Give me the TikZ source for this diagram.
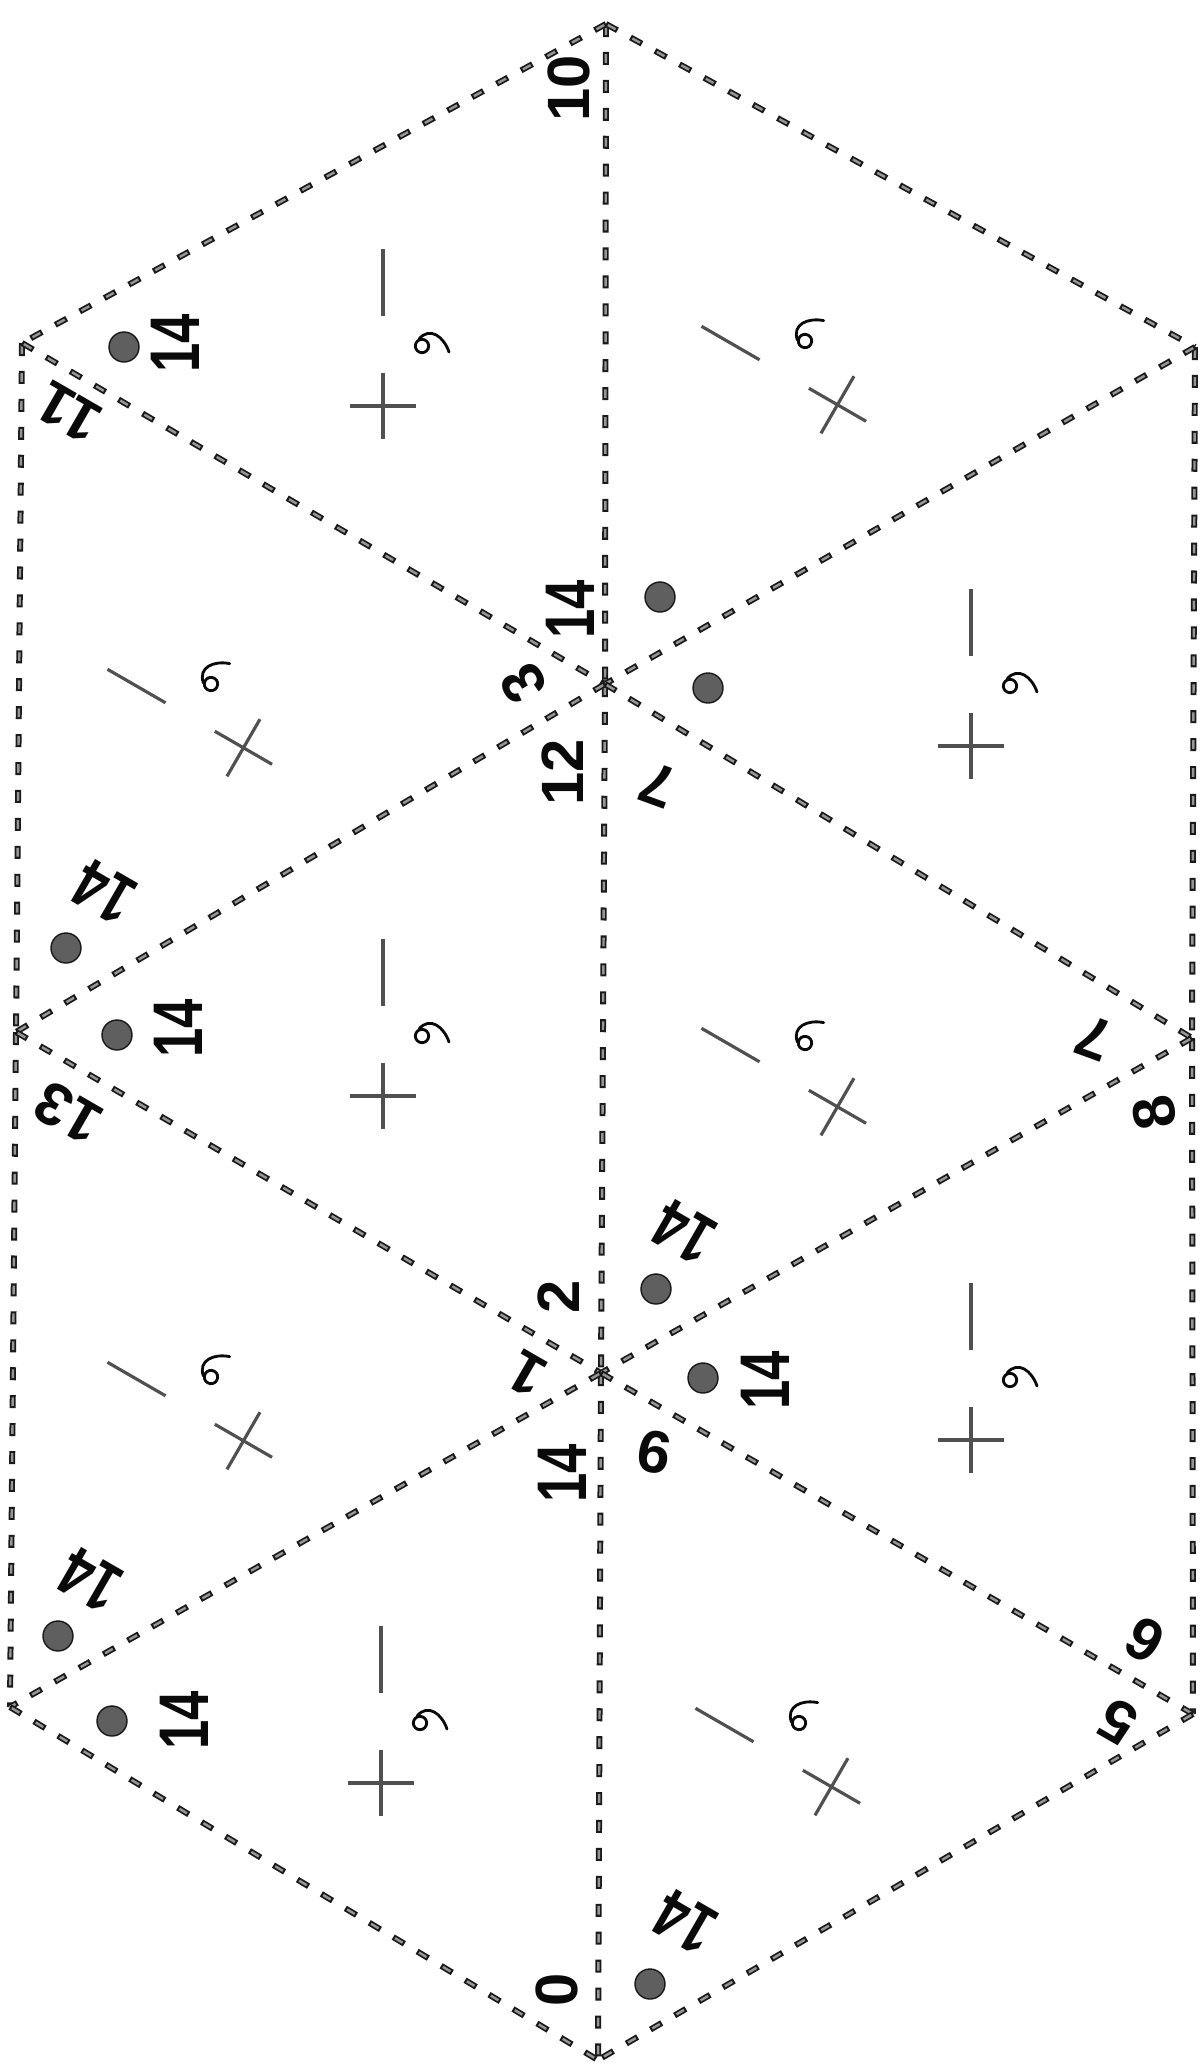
\documentclass[tikz,border=0pt]{standalone}
\usepackage{fontspec}
\newfontfamily\handfont{Liberation Sans}
\newfontfamily\handnarrow{Liberation Sans}[FakeStretch=0.75]
\definecolor{flexTplPaper}{RGB}{255,255,255}
\definecolor{flexTplFold}{RGB}{25,25,25}
\definecolor{flexTplFoldIn}{RGB}{150,150,150}
\definecolor{flexTplSign}{RGB}{80,80,80}
\definecolor{flexTplInk}{RGB}{10,10,10}
\definecolor{flexTplDot}{RGB}{95,95,95}

\begin{document}
\begin{tikzpicture}[x=.02cm,y=-.02cm,
      num/.style={font=\fontsize{34}{34}\selectfont\handfont\bfseries,
        text=flexTplInk, inner sep=0pt},
      big/.style={font=\fontsize{40}{40}\selectfont\handnarrow\bfseries,
        text=flexTplInk, inner sep=0pt},
      spot/.style={circle, fill=flexTplDot, draw=flexTplFold, line width=.8pt,
        minimum size=.6cm, inner sep=0pt},
      fold/.style={draw=flexTplFold, line width=3.4pt,
        dash pattern=on 7.4pt off 8.5pt},
      foldin/.style={draw=flexTplFoldIn, line width=1.4pt,
        dash pattern=on 5pt off 10.9pt, dash phase=14.7pt},
      sign/.style={draw=flexTplSign, line width=1.8pt},
      curl/.style={draw=flexTplInk, line width=1.6pt, line cap=round}]
      \useasboundingbox (0,0) rectangle (1200,2070);
      \fill[flexTplPaper] (0,0) rectangle (1200,2070);

      \coordinate (top) at (606,24);
      \coordinate (lt) at (22,343);
      \coordinate (lm) at (16,1032);
      \coordinate (lb) at (10,1707);
      \coordinate (rt) at (1195,347);
      \coordinate (rm) at (1192,1038);
      \coordinate (rb) at (1193,1714);
      \coordinate (c1) at (605,684);
      \coordinate (c2) at (601,1373);
      \coordinate (bot) at (598,2060);

      \foreach \a/\b in {top/c1,c1/c2,c2/bot,lt/lm,lm/lb,rt/rm,rm/rb,
          top/lt,top/rt,lt/c1,rt/c1,c1/lm,c1/rm,
          lm/c2,rm/c2,c2/lb,c2/rb,lb/bot,rb/bot}{
        \draw[fold] (\a) -- (\b);
        \draw[foldin] (\a) -- (\b);}

      \foreach \x/\y/\r in {422/346/0,211/684/60,422/1036/0,211/1377/60,
          420/1723/0,805/341/60,1010/686/0,805/1043/60,1010/1380/0,
          799/1723/60}{
        \begin{scope}[shift={(\x,\y)}, rotate=\r]
          \draw[sign] (-39,-97) -- (-39,-30);
          \draw[sign] (-72,60) -- (-6,60) (-39,27) -- (-39,93);
          \draw[curl] (0,0) circle (3.8pt)
            (-3,-7) .. controls (8,-20) and (22,-9) .. (27,6);
        \end{scope}}

      \node[num, rotate=90] (n10) at (569,88) {10};
      \node[big, rotate=90] (n14a) at (175,343) {14};
      \node[spot] (d14a) at (124,347) {};
      \node[num, rotate=150] (n11) at (69,412) {11};

      \node[big, rotate=90] (n14b) at (570,609) {14};
      \node[spot] (d14b) at (660,597) {};
      \node[spot] (d14c) at (708,688) {};
      \node[num, rotate=120] (n3) at (523,683) {3};
      \node[num, rotate=90] (n12) at (563,772) {12};
      \node[num, rotate=160] (n7a) at (658,785) {7};

      \node[big, rotate=150] (n14d) at (104,892) {14};
      \node[spot] (d14d) at (66,948) {};
      \node[big, rotate=90] (n14e) at (178,1028) {14};
      \node[spot] (d14e) at (117,1035) {};
      \node[num, rotate=150] (n13) at (68,1113) {13};
      \node[num, rotate=160] (n7b) at (1094,1038) {7};
      \node[num, rotate=100] (n8) at (1154,1113) {8};

      \node[big, rotate=150] (n14f) at (684,1232) {14};
      \node[spot] (d14f) at (656,1289) {};
      \node[num, rotate=90] (n2) at (559,1297) {2};
      \node[num, rotate=150] (n1) at (527,1374) {1};
      \node[big, rotate=90] (n14g) at (765,1380) {14};
      \node[spot] (d14g) at (703,1378) {};
      \node[big, rotate=90] (n14h) at (562,1473) {14};
      \node[num, rotate=-10] (n6a) at (654,1452) {6};

      \node[big, rotate=150] (n14i) at (90,1580) {14};
      \node[spot] (d14i) at (58,1636) {};
      \node[big, rotate=90] (n14j) at (184,1720) {14};
      \node[spot] (d14j) at (112,1721) {};
      \node[num, rotate=150] (n6b) at (1145,1640) {6};
      \node[num, rotate=150] (n5) at (1118,1722) {5};

      \node[num, rotate=90] (n0) at (557,1990) {0};
      \node[big, rotate=150] (n14k) at (685,1922) {14};
      \node[spot] (d14k) at (650,1984) {};
    \end{tikzpicture}
\end{document}
